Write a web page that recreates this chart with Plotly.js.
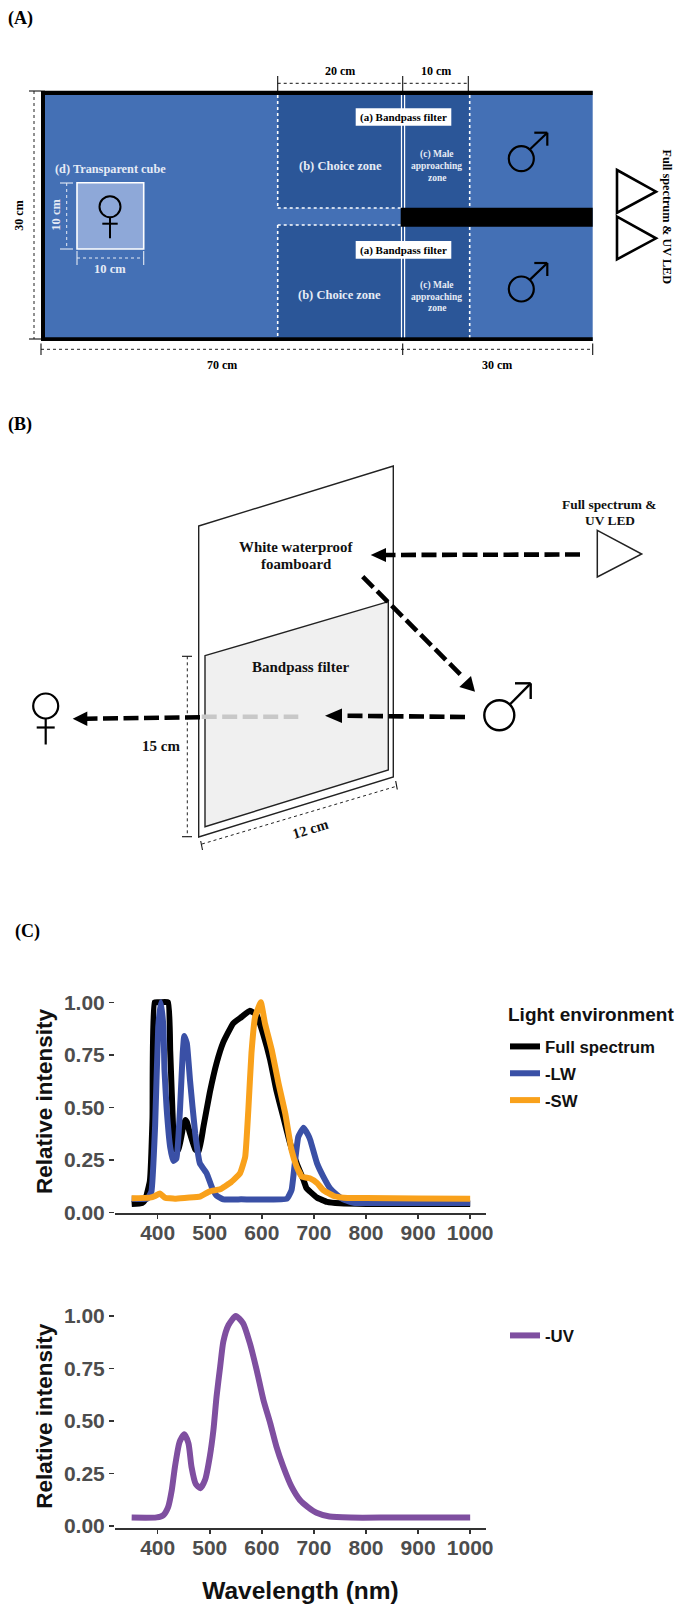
<!DOCTYPE html>
<html><head><meta charset="utf-8">
<script src="https://cdn.plot.ly/plotly-3.0.1.min.js"></script>
<style>html,body{margin:0;padding:0;background:#fff}#g{width:676px;height:1604px}</style>
</head><body><div id="g"></div>
<script>
const fullWl=[350,370,376,385,390,394,405,420,424,427,430,432,440,449,453,456,462,472,479,488,500,513,526,545,561,577,590,603,616,628,641,654,667,680,686,692,706,725,750,800,900,1000];
const fullVal=[.04,.045,.06,.15,.45,1,1,1,.77,.57,.376,.30,.30,.41,.44,.43,.376,.30,.29,.41,.57,.71,.81,.90,.93,.96,.94,.845,.725,.58,.455,.33,.233,.154,.114,.10,.07,.05,.043,.04,.04,.04];
const lwWl=[350,380,388,395,401,406,411,413,417,424,430,436,443,448,451,456,462,472,481,494,504,513,526,560,648,657,664,670,680,689,693,706,718,731,744,756,776,850,1000];
const lwVal=[.065,.065,.10,.41,.88,1,.88,.68,.5,.31,.245,.257,.5,.757,.84,.805,.63,.376,.233,.186,.12,.08,.062,.062,.065,.106,.25,.36,.403,.368,.344,.233,.17,.114,.083,.062,.046,.045,.045];
const swWl=[350,385,395,404,414,433,456,481,500,520,539,558,568,574,580,587,598,606,619,632,645,657,667,677,692,706,718,738,757,800,900,1000];
const swVal=[.067,.07,.078,.09,.07,.065,.07,.075,.10,.11,.14,.186,.265,.487,.757,.93,1,.90,.773,.614,.47,.297,.217,.17,.162,.14,.106,.078,.07,.068,.066,.065];
const uvWl=[350,398,411,420,427,433,442,451,459,465,473,482,491,500,507,513,520,526,536,550,564,577,590,603,616,628,641,657,673,689,705,730,770,850,1000];
const uvVal=[.04,.041,.052,.09,.17,.28,.40,.437,.394,.28,.20,.18,.22,.33,.457,.616,.76,.878,.957,1,.965,.87,.743,.60,.49,.378,.283,.187,.124,.089,.063,.045,.04,.04,.04];
const xTicks=[400,500,600,700,800,900,1000];
const yTicks=[0,.25,.5,.75,1];
const seriesNames=['Full spectrum','-LW','-SW','-UV'];
const seriesColors=['#000000','#3a50a6','#f9a11b','#7f4fa0'];
const legendTitle='Light environment';
const yTitle='Relative intensity';
const xTitle='Wavelength (nm)';

const W=676,H=1604,SERIF='"Liberation Serif",serif',SANS='"Liberation Sans",Arial,sans-serif';
const shapes=[],annotations=[];
const ln=(x0,y0,x1,y1,color='#000',width=1.5,dash='solid')=>shapes.push({type:'line',xref:'x3',yref:'y3',x0,y0,x1,y1,line:{color,width,dash}});
const rc=(x0,y0,x1,y1,fill,color='rgba(0,0,0,0)',width=0)=>shapes.push({type:'rect',xref:'x3',yref:'y3',x0,y0,x1,y1,fillcolor:fill,line:{color,width}});
const poly=(pts,fill,color='rgba(0,0,0,0)',width=0)=>shapes.push({type:'path',xref:'x3',yref:'y3',path:'M'+pts.map(p=>p.join(',')).join('L')+'Z',fillcolor:fill,line:{color,width}});
const circ=(cx,cy,r,color='#000',width=2)=>shapes.push({type:'circle',xref:'x3',yref:'y3',x0:cx-r,x1:cx+r,y0:cy-r,y1:cy+r,fillcolor:'rgba(0,0,0,0)',line:{color,width}});
const tx=(text,x,y,size,color='#000',rot=0)=>annotations.push({xref:'x3',yref:'y3',x,y,text,showarrow:false,xanchor:'center',yanchor:'middle',textangle:rot,borderpad:0,font:{family:SERIF,size,color,weight:700}});
const male=(cx,cy,r,lw,dx0,dy0,dx1,dy1,hl)=>{circ(cx,cy,r,'#000',lw);ln(cx+dx0,cy+dy0,cx+dx1,cy+dy1,'#000',lw);ln(cx+dx1-hl,cy+dy1,cx+dx1,cy+dy1,'#000',lw);ln(cx+dx1,cy+dy1,cx+dx1,cy+dy1+hl,'#000',lw);};
const female=(cx,cy,r,lw,stem,cr,half)=>{circ(cx,cy,r,'#000',lw);ln(cx,cy+r,cx,cy+r+stem,'#000',lw);ln(cx-half,cy+r+cr,cx+half,cy+r+cr,'#000',lw);};

/* Panel labels */
tx('(A)',20,18.5,18);tx('(B)',20,424,18);tx('(C)',27.5,931.5,18);

/* Panel A */
const BL='#4470b5',DK='#2b5698',WH='#ffffff',OFF='#e6ebf5';
rc(41,91,592.7,341,BL);
rc(277.7,95,469.7,208,DK);rc(277.7,225,469.7,337.5,DK);
rc(41,90.7,592.7,95,'#000');rc(41,337.3,592.7,341,'#000');rc(41,90.7,45,341,'#000');
for(const [a,b] of [[95,208],[226,337.3]]){ln(401.5,a,401.5,b,WH,1.2);ln(404.6,a,404.6,b,WH,1.2);}
ln(277.7,95,277.7,208,WH,1.6,'dot');ln(277.7,208,401,208,WH,1.6,'dot');
ln(277.7,225,401,225,WH,1.6,'dot');ln(277.7,225,277.7,337.3,WH,1.6,'dot');
ln(469.7,95,469.7,207,WH,1.6,'dot');ln(469.7,227,469.7,337.3,WH,1.6,'dot');
rc(400.7,207.7,592.7,226.7,'#000');
rc(355.7,108.3,451.3,125.7,WH);rc(355.7,241,451.3,258.7,WH);
tx('(a) Bandpass filter',403.5,117.2,11);tx('(a) Bandpass filter',403.5,250,11);
tx('(b) Choice zone',340,166,12.5,OFF);tx('(b) Choice zone',339,295,12.5,OFF);
[[154.7,'(c) Male'],[166,'approaching'],[177.5,'zone'],[285.7,'(c) Male'],[297,'approaching'],[308,'zone']].forEach(([y,s])=>tx(s,436.5,y,9.5,OFF));
male(521.3,158.7,12.5,2.2,8.7,-9.4,26,-26,13);male(521.3,289,12.5,2.2,8.7,-9.4,26,-26,13);
poly([[617,170],[656,191.7],[617,212.7]],WH,'#000',2.6);poly([[617,216.7],[656,238.3],[617,259.3]],WH,'#000',2.6);
tx('Full spectrum &amp; UV LED',666.5,217,12.2,'#000',90);
ln(277.7,83.3,468.5,83.3,'#111',1,'dot');
[277.7,402.7,468.3].forEach(x=>ln(x,76,x,91,'#111',1.1));
tx('20 cm',340,71,12);tx('10 cm',435.7,71,12);
ln(34,91,34,339,'#222',1,'dot');ln(29,91,41,91,'#111',1.1);ln(29,339,41,339,'#111',1.1);
tx('30 cm',19,215.7,12,'#000',-90);
ln(41,349.3,592.7,349.3,'#222',1,'dot');[41,402.7,592.7].forEach(x=>ln(x,343.5,x,355,'#111',1.1));
tx('70 cm',221.7,365,12);tx('30 cm',497.3,365,12);
rc(77,182.7,143.7,249,'#8ea8d8',WH,1.6);
tx('(d) Transparent cube',110,169,12.3,OFF);
female(110,206.7,10.5,2,21,6.5,7.7);
ln(66.7,183,66.7,249,OFF,1,'dot');ln(60,183,73,183,OFF,1.1);ln(60,249,73,249,OFF,1.1);
tx('10 cm',55.7,215,12.5,OFF,-90);
ln(77,258,143.7,258,OFF,1,'dot');ln(77,251,77,265,OFF,1.1);ln(143.7,251,143.7,265,OFF,1.1);
tx('10 cm',110,269,12.5,OFF);

/* Panel B */
poly([[198.7,526],[393.3,466],[393.3,777],[198.7,837]],WH,'#222',1.4);
poly([[205,655.7],[388.3,601.7],[388.3,770],[205,826.7]],'#f0f0f0','#222',1.4);
tx('White waterproof',296,546.7,14.9,'#111');tx('foamboard',296,564,14.9,'#111');
tx('Bandpass filter',300.7,667.3,15,'#111');
ln(187.3,656.3,187.3,836.7,'#222',1,'dot');ln(182,656.3,192,656.3,'#111',1.1);ln(182,836.7,192,836.7,'#111',1.1);
tx('15 cm',160.7,746,15,'#111');
ln(202,844,395,786.7,'#222',1,'dot');ln(200.7,841,202.5,850,'#111',1.1);ln(395.7,781,397.3,789.5,'#111',1.1);
tx('12 cm',310,829,14.5,'#111',-17);
female(45.7,706,12.5,2.2,26,9,9);
male(499.3,715.3,15,2.4,10,-10.3,31.4,-32,15.7);
poly([[597.3,530.3],[641.7,554],[597.3,577]],WH,'#222',1.5);
tx('Full spectrum &amp;',609.3,504.3,13.4,'#111');tx('UV LED',610,520,13.4,'#111');
const DASH='15px,5.5px',AW=4.6;
ln(580,554.5,386,555,'#000',AW,DASH);poly([[370.7,555],[386,548],[386,562]],'#000');
ln(362.7,576.7,463,677,'#000',AW,DASH);poly([[475,691.7],[459.3,687],[471,676]],'#000');
ln(465,717,342,715.7,'#000',AW,DASH);poly([[325,715.7],[342,708.5],[342,723]],'#000');
ln(201.7,716.7,298.3,716.7,'#c8c8c8',AW,DASH);
ln(200,717.3,87,718.7,'#000',AW,DASH);poly([[72.7,718.7],[87.3,711.5],[87.3,726]],'#000');

/* Legend heading */
annotations.push({xref:'x3',yref:'y3',x:507,y:1014,text:legendTitle,showarrow:false,xanchor:'left',yanchor:'middle',borderpad:0,font:{family:SANS,size:19,color:'#111',weight:700}});

const axX=(extra)=>Object.assign({domain:[115/W,486/W],range:[318,1030.4],tickmode:'array',tickvals:xTicks,ticktext:xTicks.map(String),
  ticks:'outside',ticklen:4,tickwidth:1.5,tickcolor:'#333',showline:true,linecolor:'#333',linewidth:1.6,showgrid:false,zeroline:false,ticklabelstandoff:-4,
  tickfont:{family:SANS,size:21,color:'#4d4d4d',weight:700},fixedrange:true,automargin:false},extra);
const axY=(dom,rng,extra)=>Object.assign({domain:dom,range:rng,tickmode:'array',tickvals:yTicks,ticktext:yTicks.map(v=>v.toFixed(2)),
  ticks:'outside',ticklen:5,tickwidth:1.5,tickcolor:'#333',showline:false,showgrid:false,zeroline:false,
  tickfont:{family:SANS,size:21,color:'#4d4d4d',weight:700},fixedrange:true,automargin:false,
  title:{text:yTitle,font:{family:SANS,size:22.5,color:'#111',weight:700},standoff:5}},extra);
const tr=(x,y,i,xa,ya,leg)=>({type:'scatter',mode:'lines',x,y,name:seriesNames[i],xaxis:xa,yaxis:ya,legend:leg,legendgroup:seriesNames[i],
  line:{color:seriesColors[i],width:6,shape:'spline',smoothing:i===3?0.6:0.35,simplify:false},hoverinfo:'skip'});

const data=[
 tr(fullWl,fullVal,0,'x','y','legend'),
 tr(lwWl,lwVal,1,'x','y','legend'),
 tr(swWl,swVal,2,'x','y','legend'),
 tr(uvWl,uvVal,3,'x2','y2','legend2'),
 {type:'scatter',mode:'markers',x:[0],y:[0],xaxis:'x3',yaxis:'y3',showlegend:false,marker:{opacity:0,size:1},hoverinfo:'skip'}
];
const legFont={family:SANS,size:16.8,color:'#111',weight:700};
const layout={width:W,height:H,autosize:false,margin:{l:0,r:0,t:0,b:0,pad:0},paper_bgcolor:'#fff',plot_bgcolor:'rgba(0,0,0,0)',showlegend:true,
 xaxis:axX({anchor:'y'}),
 yaxis:axY([1-1213/H,1-990/H],[-.003,1.0586],{anchor:'x'}),
 xaxis2:axX({anchor:'y2',title:{text:xTitle,font:{family:SANS,size:24.5,color:'#111',weight:700},standoff:24}}),
 yaxis2:axY([1-1528.3/H,1-1304/H],[-.011,1.057],{anchor:'x2'}),
 xaxis3:{domain:[0,1],range:[0,W],visible:false,fixedrange:true,anchor:'y3'},
 yaxis3:{domain:[0,1],range:[H,0],visible:false,fixedrange:true,anchor:'x3'},
 legend:{x:505/W,y:1-1029/H,xanchor:'left',yanchor:'top',bgcolor:'rgba(0,0,0,0)',font:legFont,traceorder:'grouped',tracegroupgap:2,itemwidth:30,itemclick:false,itemdoubleclick:false},
 legend2:{x:505/W,y:1-1318/H,xanchor:'left',yanchor:'top',bgcolor:'rgba(0,0,0,0)',font:legFont,itemwidth:30,itemclick:false,itemdoubleclick:false},
 shapes,annotations};
Plotly.newPlot('g',data,layout,{displayModeBar:false,staticPlot:true});
</script></body></html>
